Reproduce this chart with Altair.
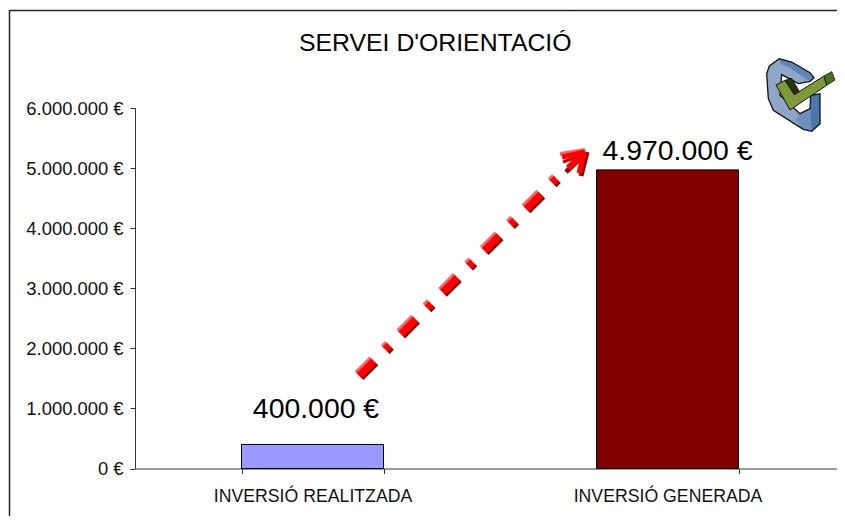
import altair as alt
import pandas as pd

# ---- chart values ----
categories = ["INVERSIÓ REALITZADA", "INVERSIÓ GENERADA"]
values = [400000, 4970000]
value_labels = ["400.000 €", "4.970.000 €"]
y_ticks = [0, 1000000, 2000000, 3000000, 4000000, 5000000, 6000000]
title_text = "SERVEI D'ORIENTACIÓ"

# ---- layout: page pixel -> chart pixel ----
OX, OY = 127, 100     # plot origin in canvas, canvas starts at page (8, 8)
PW, PH = 710, 360.5
FONT = "Liberation Sans"


def px(x):
    return x - 8 - OX


def py(y):
    return y - 8 - OY


one = pd.DataFrame({"a": [0]})


def rule(x1, y1, x2, y2, color, width, dash=None):
    kw = dict(color=color, strokeWidth=width, strokeCap="butt")
    if dash:
        kw["strokeDash"] = dash
    return alt.Chart(one).mark_rule(**kw).encode(
        x=alt.value(px(x1)), y=alt.value(py(y1)),
        x2=alt.value(px(x2)), y2=alt.value(py(y2)))


def logo_poly(points, fill=None, stroke=None, sw=1.0):
    # outline measured in 1/3 px units from the logo's corner at page (760, 52)
    d = "M" + "L".join(f"{x},{y}" for x, y in points) + "Z"
    kw = dict(shape=d, size=4 / 9, opacity=1)
    if fill:
        kw.update(filled=True, fill=fill, fillOpacity=1)
    else:
        kw.update(filled=False)
    if stroke:
        kw.update(stroke=stroke, strokeWidth=sw)
    else:
        kw.update(strokeWidth=0)
    return alt.Chart(one).mark_point(**kw).encode(
        x=alt.value(px(760)), y=alt.value(py(52)))


df = pd.DataFrame({"cat": categories, "val": values, "label": value_labels})

x_enc = alt.X("cat:N", sort=categories,
              scale=alt.Scale(paddingInner=0.6, paddingOuter=0.3),
              axis=alt.Axis(title=None, labelAngle=0, labelFont=FONT, labelFontSize=17.7,
                            labelLimit=0, labelColor="#111111", labelPadding=14,
                            tickBand="extent", tickSize=5, tickColor="#333333",
                            domainColor="#333333", grid=False))
y_scale = alt.Scale(domain=[0, 6000000], nice=False)

bars = alt.Chart(df).mark_bar(stroke="#000000", strokeWidth=1).encode(
    x=x_enc,
    y=alt.Y("val:Q", scale=y_scale,
            axis=alt.Axis(title=None, values=y_ticks, labelFont=FONT, labelFontSize=18.4,
                          labelColor="#111111", labelPadding=7, tickSize=5,
                          tickColor="#333333", domainColor="#333333", grid=False,
                          labelExpr="replace(format(datum.value, ',d'), /,/g, '.') + ' €'")),
    color=alt.Color("cat:N", sort=categories, legend=None,
                    scale=alt.Scale(domain=categories, range=["#9999FF", "#800000"])),
)


def value_label(i, dx, dy):
    return alt.Chart(df.iloc[[i]]).mark_text(
        font=FONT, fontSize=28.4, color="#000000", dx=dx, dy=dy, baseline="alphabetic").encode(
        x=alt.X("cat:N", sort=categories),
        y=alt.Y("val:Q", scale=y_scale),
        text="label:N",
    )


labels = [value_label(0, 3.5, -26), value_label(1, 10, -10)]

# frame
frame = [
    rule(9.5, 10.5, 845, 10.5, "#222222", 1.5),
    rule(9.5, 10, 9.5, 524, "#222222", 1.5),
]

# dashed 3-D arrow
S = (359, 375.7)
E = (561, 174)
d = [21, 16, 6, 16]
arrow = [
    rule(S[0] - 3, S[1] - 3, E[0] - 3, E[1] - 3, "#FF6666", 4, d),
    rule(S[0] + 3, S[1] + 3, E[0] + 3, E[1] + 3, "#990000", 4, d),
    rule(S[0], S[1], E[0], E[1], "#FF0000", 7, d),
]
head = [
    rule(587, 152, 581, 176, "#990000", 5),
    rule(586, 153, 566, 172, "#990000", 5),
    rule(585, 150, 560, 154, "#FF6666", 4),
    rule(585, 152, 562, 157, "#FF0000", 5),
    rule(585, 154, 563, 162, "#CC0000", 3),
    rule(585, 152, 568, 168, "#FF0000", 6),
    rule(584, 152, 579, 173, "#FF0000", 5),
]

# check-mark logo
ring = [(20, 65), (28, 42), (58, 20), (95, 30), (150, 62), (162, 78), (150, 88), (115, 95),
        (65, 68), (60, 130), (120, 185), (150, 170), (152, 130), (180, 125), (180, 215),
        (155, 238), (130, 232), (40, 175), (25, 140)]
ring_top = [(58, 20), (95, 30), (150, 62), (162, 78), (150, 88), (125, 72), (85, 45), (62, 36)]
ring_right = [(152, 130), (180, 125), (180, 215), (155, 238), (150, 170)]
ring_bottom = [(120, 185), (150, 170), (155, 238), (130, 232), (105, 205)]
check = [(48, 99), (75, 85), (103, 128), (192, 72), (200, 100), (90, 174)]
check_dark = [(75, 85), (95, 79), (118, 118), (103, 128)]
check_tip = [(192, 72), (215, 59), (225, 84), (200, 100)]
logo = [
    logo_poly(ring, "#8FA6C9"),
    logo_poly(ring_top, "#5E86B4"),
    logo_poly(ring_bottom, "#6F8FBF"),
    logo_poly(ring_right, "#4A78AC"),
    logo_poly(ring, None, "#111111", 1.3),
    logo_poly(check_dark, "#24360A", "#111111", 0.8),
    logo_poly(check_tip, "#4E7120", "#111111", 0.8),
    logo_poly(check, "#7D9A38", "#111111", 1.0),
]

layers = frame + [bars] + labels + arrow + head + logo

chart = alt.layer(*layers).properties(
    width=PW, height=PH,
    padding={"left": OX, "top": OY, "right": -8, "bottom": 47},
    autosize=alt.AutoSizeParams(type="none"),
    title=alt.TitleParams(title_text, font=FONT, fontSize=24.8, fontWeight="normal",
                          color="#000000", anchor="start", frame="group", dx=164,
                          offset=0, dy=67, baseline="alphabetic"),
    background="#ffffff",
).configure_view(stroke=None)

chart.save("out.html", embed_options={"renderer": "svg", "actions": False})
